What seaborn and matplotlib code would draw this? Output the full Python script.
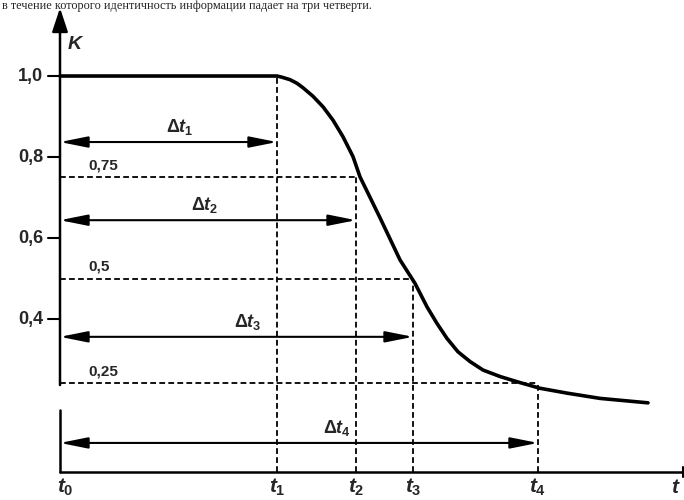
import matplotlib.pyplot as plt
import seaborn as sns
import pandas as pd
from matplotlib.patches import ArrowStyle

# curve K(t)
t_curve = [0.0, 2.17, 2.22, 2.30, 2.37, 2.43, 2.53, 2.63, 2.73, 2.83, 2.93, 3.00,
           3.20, 3.40, 3.55, 3.67, 3.77, 3.87, 3.98, 4.10, 4.23, 4.40, 4.60, 4.80,
           5.07, 5.40, 5.88]
k_curve = [1.0, 1.0, 0.997, 0.991, 0.982, 0.971, 0.950, 0.924, 0.891, 0.850, 0.801, 0.751,
           0.650, 0.546, 0.488, 0.430, 0.389, 0.352, 0.319, 0.295, 0.274, 0.258, 0.243, 0.229,
           0.217, 0.204, 0.193]

# levels and moments
level_k = [0.75, 0.50, 0.242]
level_labels = ['0,75', '0,5', '0,25']
t_marks = [2.17, 2.96, 3.53, 4.78]
t_labels = [r'$t_1$', r'$t_2$', r'$t_3$', r'$t_4$']
arrow_k = [0.837, 0.644, 0.356, 0.094]
arrow_labels = [r'$\Delta t_1$', r'$\Delta t_2$', r'$\Delta t_3$', r'$\Delta t_4$']
arrow_label_t = [1.20, 1.45, 1.88, 2.77]

yticks = [1.0, 0.8, 0.6, 0.4]
ytick_labels = ['1,0', '0,8', '0,6', '0,4']

base_k = 0.022
top_k = 1.168
t_end = 6.23

title = 'в течение которого идентичность информации падает на три четверти.'

sns.set_style('white')
plt.rcParams['font.family'] = ['Liberation Sans', 'DejaVu Sans']
plt.rcParams['mathtext.fontset'] = 'custom'
plt.rcParams['mathtext.rm'] = 'Liberation Sans:bold'
plt.rcParams['mathtext.it'] = 'Liberation Sans:bold:italic'

fig = plt.figure(figsize=(6.84, 5), dpi=100)
ax = fig.add_axes([0, 0, 1, 1])
ax.set_xlim(-0.6, 6.24)
ax.set_ylim(-0.0469, 1.1877)
ax.axis('off')

dash = (0, (3.2, 1.8))

# the curve
df = pd.DataFrame({'t': t_curve, 'K': k_curve})
sns.lineplot(data=df, x='t', y='K', ax=ax, color='black', lw=2.6,
             sort=False, estimator=None)

# dashed verticals
vert_top = [1.0] + level_k
for t, top in zip(t_marks, vert_top):
    ax.plot([t, t], [base_k, top], color='black', lw=1.3, ls=dash)

# dashed horizontals + labels
for k, lab, t in zip(level_k, level_labels, t_marks[1:]):
    ax.plot([0, t], [k, k], color='black', lw=1.3, ls=dash)
    ax.text(0.28, k + 0.012, lab, fontsize=11, fontweight='bold',
            ha='left', va='bottom')

# interval arrows
style = ArrowStyle('<|-|>', head_length=1.4, head_width=0.28)
for t, k, lab, lt in zip(t_marks, arrow_k, arrow_labels, arrow_label_t):
    ax.annotate('', xy=(t, k), xytext=(0, k),
                arrowprops=dict(arrowstyle=style, color='black', lw=1.5,
                                shrinkA=0, shrinkB=0, mutation_scale=12))
    ax.text(lt, k + 0.012, lab, fontsize=13, ha='center', va='bottom')

# y axis (with a small break as in the scan)
ax.plot([0, 0], [base_k, 0.175], color='black', lw=1.8)
ax.annotate('', xy=(0, top_k), xytext=(0, 0.237),
            arrowprops=dict(arrowstyle=ArrowStyle('-|>', head_length=1.2, head_width=0.4),
                            color='black', lw=1.8, shrinkA=0, shrinkB=0,
                            mutation_scale=12))
for k, lab in zip(yticks, ytick_labels):
    ax.plot([-0.12, 0], [k, k], color='black', lw=1.5)
    ax.text(-0.17, k, lab, fontsize=13, fontweight='bold', ha='right', va='center')
ax.text(0.16, 1.077, r'$K$', fontsize=14, ha='center', va='center')

# x axis
ax.plot([0, t_end], [base_k, base_k], color='black', lw=1.8)
ax.plot([t_end, t_end], [base_k - 0.012, base_k + 0.012], color='black', lw=1.5)
ax.text(0.05, -0.030, r'$t_0$', fontsize=15, ha='center', va='baseline')
for t, lab in zip(t_marks, t_labels):
    ax.text(t, -0.030, lab, fontsize=15, ha='center', va='baseline')
ax.text(6.16, -0.030, r'$t$', fontsize=15, ha='center', va='baseline')

fig.text(0.003, 1 - 9 / 500, title, fontsize=8.8, family='Liberation Serif',
         ha='left', va='baseline')

fig.savefig('out.png', dpi=100)
